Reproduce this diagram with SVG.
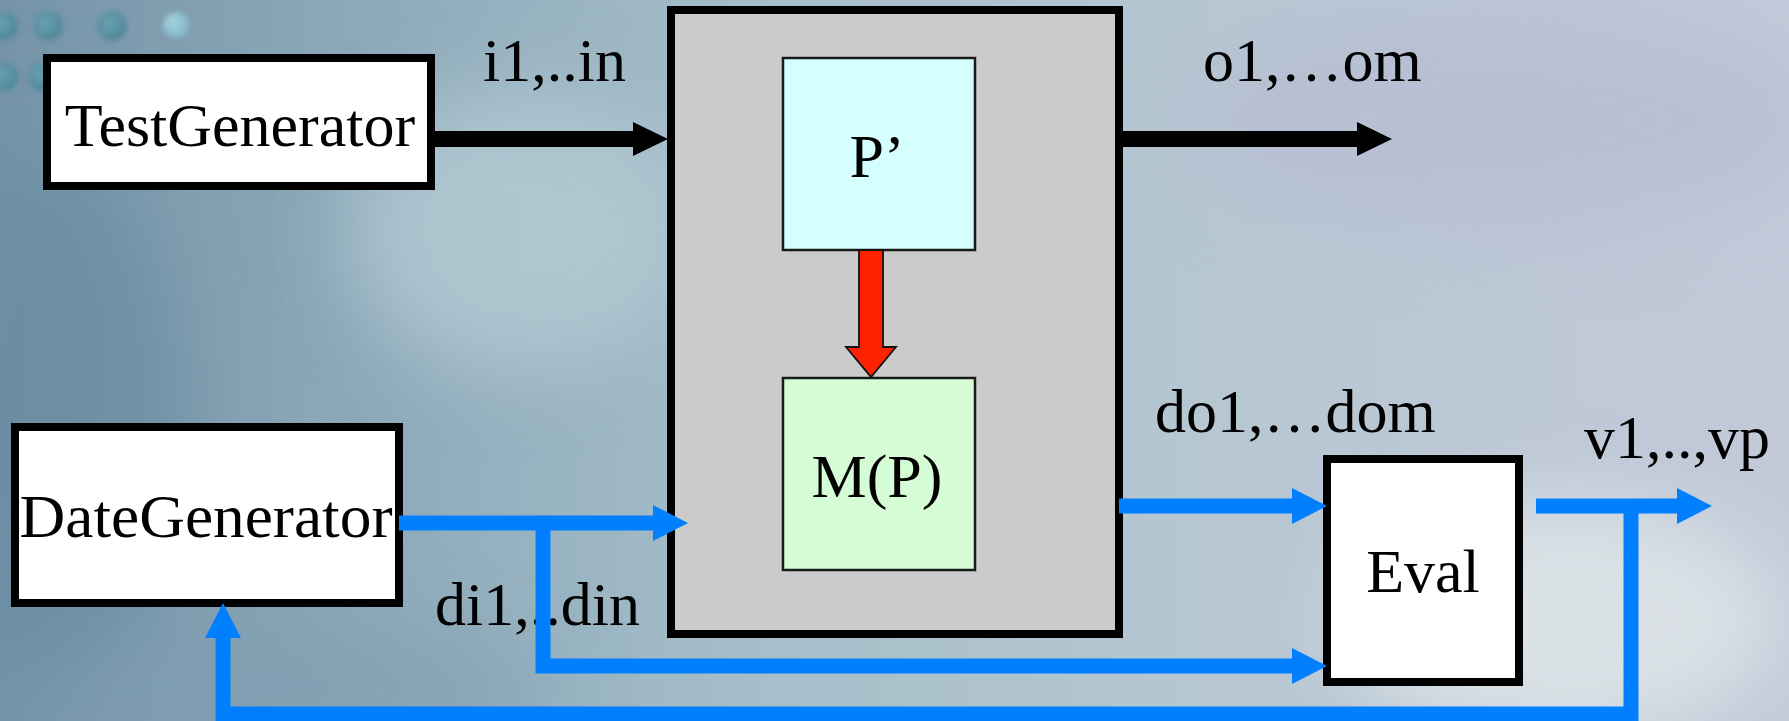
<svg xmlns="http://www.w3.org/2000/svg" width="1789" height="721" viewBox="0 0 1789 721">
  <defs>
    <linearGradient id="bgGrad" x1="0" y1="0" x2="1" y2="0">
      <stop offset="0" stop-color="#7594a8"/>
      <stop offset="0.22" stop-color="#8fabbb"/>
      <stop offset="0.42" stop-color="#a5bec9"/>
      <stop offset="0.68" stop-color="#b6c7d2"/>
      <stop offset="1" stop-color="#c3c9d9"/>
    </linearGradient>
    <radialGradient id="dotDark" cx="0.4" cy="0.4" r="0.6">
      <stop offset="0" stop-color="#6aa2b2"/>
      <stop offset="1" stop-color="#4f8698"/>
    </radialGradient>
    <radialGradient id="dotLight" cx="0.4" cy="0.4" r="0.6">
      <stop offset="0" stop-color="#a6d2de"/>
      <stop offset="1" stop-color="#84b8c8"/>
    </radialGradient>
    <filter id="soft" x="-50%" y="-50%" width="200%" height="200%">
      <feGaussianBlur stdDeviation="40"/>
    </filter>
    <filter id="dotBlur" x="-50%" y="-50%" width="200%" height="200%">
      <feGaussianBlur stdDeviation="2.5"/>
    </filter>
    <marker id="headBlue" markerUnits="userSpaceOnUse" markerWidth="35" markerHeight="36" viewBox="0 0 35 36" refX="0" refY="18" orient="auto">
      <path d="M0,0 L35,18 L0,36 Z" fill="#0080ff"/>
    </marker>
    <marker id="headBlack" markerUnits="userSpaceOnUse" markerWidth="35" markerHeight="34" viewBox="0 0 35 34" refX="0" refY="17" orient="auto">
      <path d="M0,0 L35,17 L0,34 Z" fill="#000"/>
    </marker>
  </defs>
  <style>
    .box { fill: #ffffff; stroke: #000000; stroke-width: 8; }
    .inner { stroke: #1a1a1a; stroke-width: 2.5; }
    .lbl { font-family: "Liberation Serif", "Times New Roman", serif; font-size: 62px; fill: #000; }
    .mid { text-anchor: middle; }
    .blue { fill: none; stroke: #0080ff; stroke-width: 15; stroke-linejoin: miter; }
    .black { fill: none; stroke: #000; stroke-width: 16; }
  </style>

  <!-- backdrop -->
  <g id="backdrop">
    <rect x="0" y="0" width="1789" height="721" fill="url(#bgGrad)"/>
    <g filter="url(#soft)">
      <ellipse cx="40" cy="420" rx="140" ry="260" fill="#6a8ca0" opacity="0.7"/>
      <ellipse cx="520" cy="230" rx="170" ry="140" fill="#b4cbd3" opacity="0.8"/>
      <ellipse cx="1560" cy="620" rx="220" ry="120" fill="#dde4e8" opacity="0.9"/>
      <ellipse cx="1500" cy="120" rx="320" ry="110" fill="#b7bdd2" opacity="0.8"/>
      <ellipse cx="300" cy="690" rx="260" ry="60" fill="#7f9cb0" opacity="0.6"/>
    </g>
    <!-- decorative dots -->
    <g filter="url(#dotBlur)">
      <circle cx="4" cy="26" r="14" fill="url(#dotDark)"/>
      <circle cx="48" cy="26" r="15" fill="url(#dotDark)"/>
      <circle cx="112" cy="26" r="15" fill="url(#dotDark)"/>
      <circle cx="176" cy="25" r="13" fill="url(#dotLight)"/>
      <circle cx="4" cy="77" r="14" fill="url(#dotDark)"/>
      <circle cx="42" cy="77" r="14" fill="url(#dotDark)"/>
    </g>
  </g>

  <!-- program under test: outer frame with P' and M(P) -->
  <g id="program">
    <rect x="671" y="10" width="448" height="624" fill="#cbcbcb" stroke="#000" stroke-width="8"/>
  </g>
  <g id="p-prime">
    <rect class="inner" x="783" y="58" width="192" height="192" fill="#d5ffff"/>
    <text class="lbl mid" x="877" y="177">P’</text>
  </g>
  <g id="m-of-p">
    <rect class="inner" x="783" y="378" width="192" height="192" fill="#d5fcd5"/>
    <text class="lbl mid" x="877" y="497">M(P)</text>
  </g>

  <g id="test-generator">
    <rect class="box" x="47" y="58" width="384" height="128"/>
    <text class="lbl mid" x="240" y="146">TestGenerator</text>
  </g>

  <g id="date-generator">
    <rect class="box" x="15" y="427" width="384" height="176"/>
    <text class="lbl mid" x="206" y="537" textLength="373" lengthAdjust="spacingAndGlyphs">DateGenerator</text>
  </g>

  <g id="eval">
    <rect class="box" x="1327" y="459" width="192" height="223"/>
    <text class="lbl mid" x="1423" y="592">Eval</text>
  </g>

  <!-- edge labels (drawn below the connectors) -->
  <g id="labels">
    <text class="lbl" x="483" y="81">i1,..in</text>
    <text class="lbl" x="1203" y="81">o1,…om</text>
    <text class="lbl" x="1155" y="432">do1,…dom</text>
    <text class="lbl" x="1584" y="458">v1,..,vp</text>
    <text class="lbl" x="435" y="625">di1,..din</text>
  </g>

  <g id="connectors">
    <!-- inputs and outputs of the program -->
    <path class="black" d="M431,139 H633" marker-end="url(#headBlack)"/>
    <path class="black" d="M1119,139 H1357" marker-end="url(#headBlack)"/>
    <!-- P' is transformed into M(P) -->
    <path d="M859,250 V347 H846 L871,377 L896,347 H883 V250 Z" fill="#ff2200" stroke="#111" stroke-width="1.8" stroke-linejoin="miter"/>
    <!-- data inputs, fanned out to the evaluator -->
    <path class="blue" d="M399,523 H653" marker-end="url(#headBlue)"/>
    <path class="blue" d="M543,523 V666 H1292" marker-end="url(#headBlue)"/>
    <!-- data outputs to the evaluator -->
    <path class="blue" d="M1119,506 H1292" marker-end="url(#headBlue)"/>
    <!-- verdicts, with feedback to the data generator -->
    <path class="blue" d="M1536,506 H1677" marker-end="url(#headBlue)"/>
    <path class="blue" d="M1631,506 V714 H223 V638" marker-end="url(#headBlue)"/>
  </g>
</svg>
